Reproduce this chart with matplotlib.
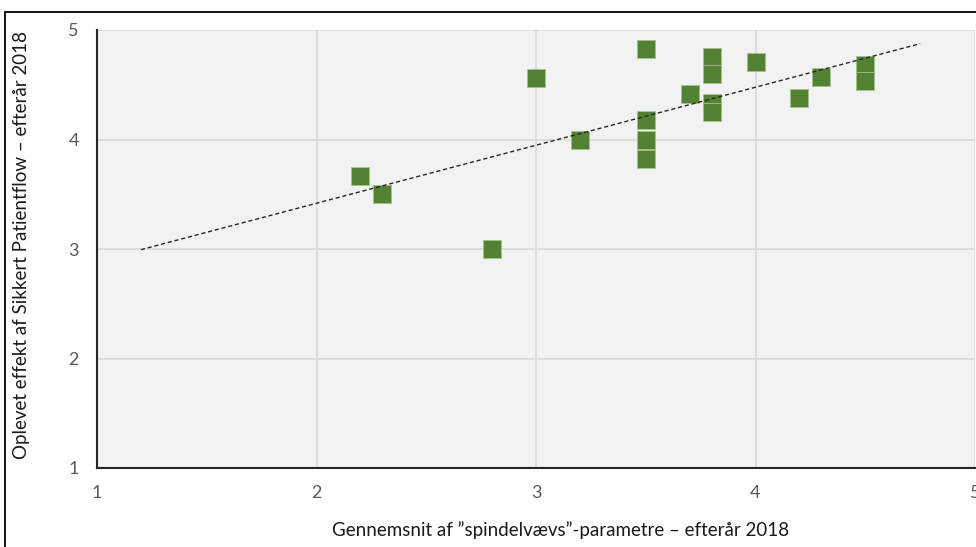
import numpy as np
import matplotlib
matplotlib.use("Agg")
import matplotlib.pyplot as plt
from matplotlib.patches import Rectangle

# Data
x_vals = [2.2, 2.3, 2.8, 3.0, 3.2, 3.5, 3.5, 3.5, 3.5, 3.7, 3.8, 3.8, 3.8, 3.8, 4.0, 4.2, 4.3, 4.5, 4.5]
y_vals = [3.67, 3.5, 3.0, 4.56, 4.0, 4.83, 4.18, 4.0, 3.82, 4.42, 4.75, 4.6, 4.33, 4.25, 4.71, 4.38, 4.57, 4.68, 4.53]
x_ticks = [1, 2, 3, 4, 5]
y_ticks = [1, 2, 3, 4, 5]
trend_range = [1.2, 4.75]
x_label = "Gennemsnit af \u201dspindelvævs\u201d-parametre \u2013 efterår 2018"
y_label = "Oplevet effekt af Sikkert Patientflow \u2013 efterår 2018"

plt.rcParams['font.family'] = ['Lato', 'DejaVu Sans']

W, H = 976, 547
fig = plt.figure(figsize=(W / 100, H / 100), dpi=100)
fig.patch.set_facecolor('white')

# outer frame (cropped screenshot border)
fig.patches.append(Rectangle((5 / W, -0.05), 1.1, 1 - 12 / H + 0.05, transform=fig.transFigure,
                             fill=False, edgecolor='black', linewidth=1.3, zorder=0))

left, right, top, bottom = 97, 975, 30, 468
ax = fig.add_axes([left / W, 1 - bottom / H, (right - left) / W, (bottom - top) / H])
ax.set_facecolor('#F2F2F2')
ax.set_xlim(1, 5)
ax.set_ylim(1, 5)
ax.set_xticks(x_ticks)
ax.set_yticks(y_ticks)
ax.grid(True, color='#D9D9D9', linewidth=1.2)
ax.set_axisbelow(True)
for s in ['top', 'right']:
    ax.spines[s].set_visible(False)
for s in ['left', 'bottom']:
    ax.spines[s].set_color('#262626')
    ax.spines[s].set_linewidth(1.5)
ax.tick_params(length=0, labelsize=13, labelcolor='#595959')
ax.tick_params(axis='y', pad=13)
ax.tick_params(axis='x', pad=12)

ax.scatter(x_vals, y_vals, marker='s', s=150, color='#548235', edgecolors='#A5C08E',
           linewidths=0.6, zorder=3)

coef = np.polyfit(x_vals, y_vals, 1)
tx = np.array(trend_range)
ax.plot(tx, np.polyval(coef, tx), linestyle=(0, (3, 2)), color='#262626', linewidth=1.0, zorder=4)

ax.set_xlabel(x_label, fontsize=13.5, color='#1a1a1a')
ax.xaxis.set_label_coords((561 - left) / (right - left), -(530 - bottom) / (bottom - top))
ax.xaxis.label.set_va('center')
ax.set_ylabel(y_label, fontsize=13.5, color='#1a1a1a')
ax.yaxis.set_label_coords(-(left - 22) / (right - left), (bottom - 245) / (bottom - top))
ax.yaxis.label.set_va('center')

fig.savefig('out.png', dpi=100)
